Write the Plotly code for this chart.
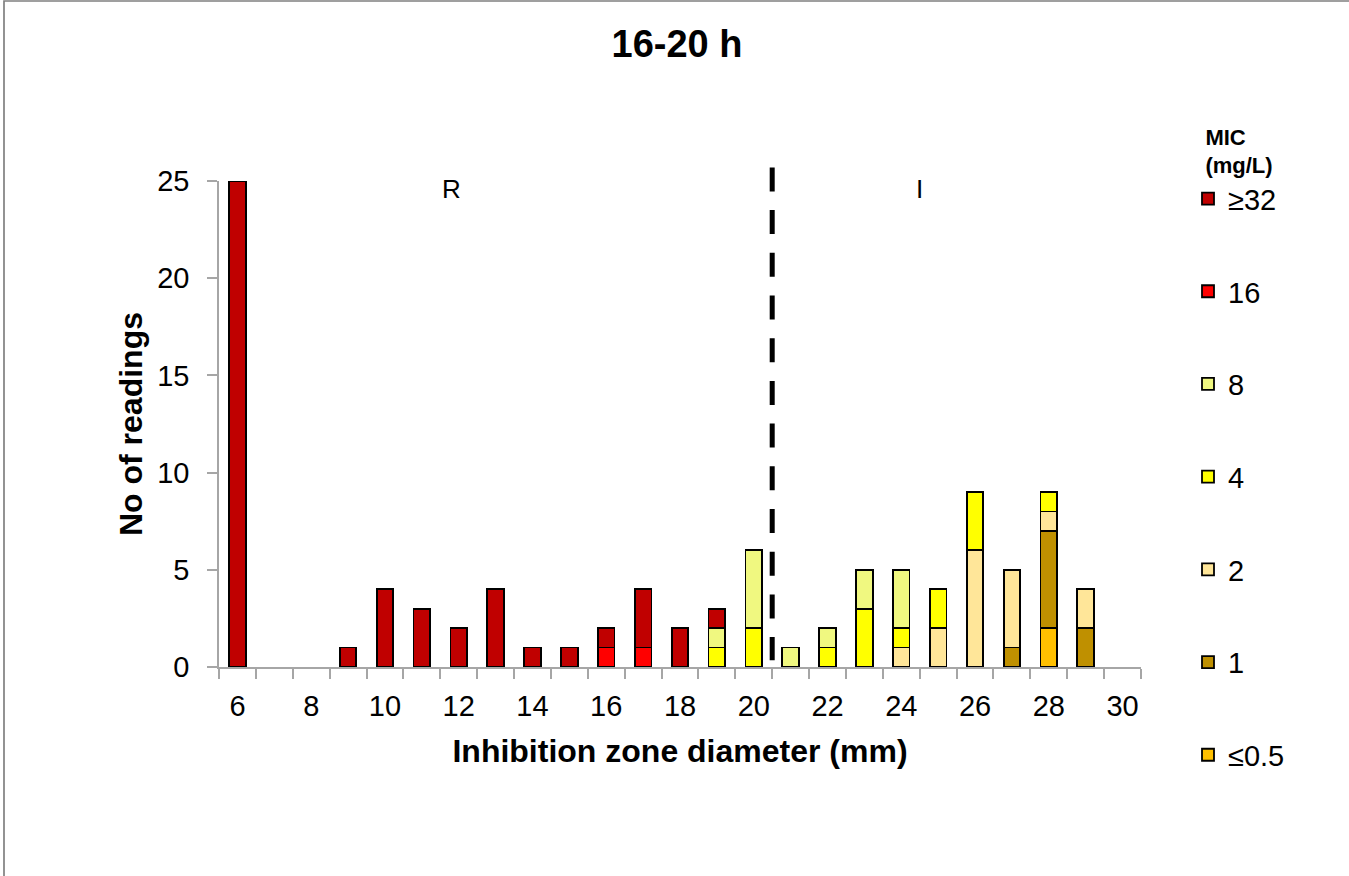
import plotly.graph_objects as go

# ---- data ----
diameters = list(range(6, 31))  # inhibition zone diameter (mm), 6..30
tick_labels = [str(v) for v in range(6, 31, 2)]
tick_positions = list(range(6, 31, 2))

mic_labels = ["≤0.5", "1", "2", "4", "8", "16", "≥32"]
mic_colors = ["#FFC000", "#BF9000", "#FFE699", "#FFFF00", "#F0F880", "#FF0000", "#C00000"]

#           6     7     8     9    10    11    12    13    14    15    16    17    18    19    20    21    22    23    24    25    26    27    28    29    30
le05  = [None, None, None, None, None, None, None, None, None, None, None, None, None, None, None, None, None, None, None, None, None, None, 2,    None, None]
mic1  = [None, None, None, None, None, None, None, None, None, None, None, None, None, None, None, None, None, None, None, None, None, 1,    5,    2,    None]
mic2  = [None, None, None, None, None, None, None, None, None, None, None, None, None, None, None, None, None, None, 1,    2,    6,    4,    1,    2,    None]
mic4  = [None, None, None, None, None, None, None, None, None, None, None, None, None, 1,    2,    None, 1,    3,    1,    2,    3,    None, 1,    None, None]
mic8  = [None, None, None, None, None, None, None, None, None, None, None, None, None, 1,    4,    1,    1,    2,    3,    None, None, None, None, None, None]
mic16 = [None, None, None, None, None, None, None, None, None, None, 1,    1,    None, None, None, None, None, None, None, None, None, None, None, None, None]
ge32  = [25,   None, None, 1,    4,    3,    2,    4,    1,    1,    1,    3,    2,    1,    None, None, None, None, None, None, None, None, None, None, None]

series = [le05, mic1, mic2, mic4, mic8, mic16, ge32]

breakpoint_x = 20.5          # R / I breakpoint between 20 and 21 mm
zone_labels = ["R", "I"]
zone_label_x = [11.8, 24.5]
zone_label_y = 24.6

FONT = "Arial, Liberation Sans, sans-serif"
GRAY = "#A6A6A6"

fig = go.Figure()
n = len(mic_labels)
for i, (name, color, vals) in enumerate(zip(mic_labels, mic_colors, series)):
    fig.add_trace(go.Bar(
        x=diameters, y=vals, name=name, legendgroup=name,
        legendrank=n - i,
        width=0.45,
        marker=dict(color=color, line=dict(color="black", width=1.8)),
    ))

x_lo, x_hi = 5.5, 30.5
y_lo, y_hi = 0, 25

# dashed breakpoint line (in domain coords so it is not clipped)
fig.add_shape(type="line", xref="x domain", yref="y domain",
              x0=(breakpoint_x - x_lo) / (x_hi - x_lo), x1=(breakpoint_x - x_lo) / (x_hi - x_lo),
              y0=25.7 / y_hi, y1=0.35 / y_hi,
              line=dict(color="black", width=5, dash="24px,18.7px"))

for t, xv in zip(zone_labels, zone_label_x):
    fig.add_annotation(x=xv, y=zone_label_y, xref="x", yref="y", text=t, showarrow=False,
                       font=dict(family=FONT, size=26, color="black"))

# outer chart border (left and top edges visible)
W, H = 1349, 876
L, R, T, B = 219, 208, 181, 209
pw, ph = W - L - R, H - T - B
def px_to_paper_x(px): return (px - L) / pw
def px_to_paper_y(py): return (H - B - py) / ph
fig.add_shape(type="rect", xref="paper", yref="paper",
              x0=px_to_paper_x(4), x1=px_to_paper_x(1400),
              y0=px_to_paper_y(950), y1=px_to_paper_y(1),
              line=dict(color="#808080", width=1.7), fillcolor="rgba(0,0,0,0)", layer="below")

fig.update_layout(
    width=W, height=H,
    margin=dict(l=L, r=R, t=T, b=B),
    barmode="stack",
    paper_bgcolor="white", plot_bgcolor="white",
    font=dict(family=FONT, color="black"),
    title=dict(text="<b>16-20 h</b>", x=677 / W, xanchor="center", xref="container",
               y=1 - 44 / H, yanchor="middle", yref="container",
               font=dict(family=FONT, size=38, color="black")),
    xaxis=dict(range=[x_lo, x_hi], tickmode="array", tickvals=tick_positions, ticktext=tick_labels,
               ticks="", showgrid=False, zeroline=False, ticklabelstandoff=12,
               showline=True, linecolor=GRAY, linewidth=1.5,
               tickfont=dict(family=FONT, size=29, color="black"),
               minor=dict(ticks="outside", tick0=5.5, dtick=1, ticklen=10, tickcolor=GRAY,
                          tickwidth=1.5, showgrid=False),
               title=dict(text="<b>Inhibition zone diameter (mm)</b>", standoff=19,
                          font=dict(family=FONT, size=32, color="black"))),
    yaxis=dict(range=[y_lo, y_hi], tickmode="linear", tick0=0, dtick=5,
               ticks="outside", ticklen=10, tickcolor=GRAY, tickwidth=1.5,
               showgrid=False, zeroline=False, ticklabelstandoff=12,
               showline=True, linecolor=GRAY, linewidth=1.5,
               tickfont=dict(family=FONT, size=29, color="black"),
               title=dict(text="<b>No of readings</b>", standoff=5,
                          font=dict(family=FONT, size=32, color="black"))),
    legend=dict(traceorder="grouped", tracegroupgap=52, maxheight=860,
                x=px_to_paper_x(1188), xanchor="left", xref="paper",
                y=px_to_paper_y(116), yanchor="top", yref="paper",
                font=dict(family=FONT, size=29, color="black"),
                title=dict(text="<b>MIC<br>(mg/L)</b>", side="top center",
                           font=dict(family=FONT, size=22, color="black")),
                bgcolor="rgba(0,0,0,0)"),
    showlegend=True,
)

fig.write_html("out.html")
